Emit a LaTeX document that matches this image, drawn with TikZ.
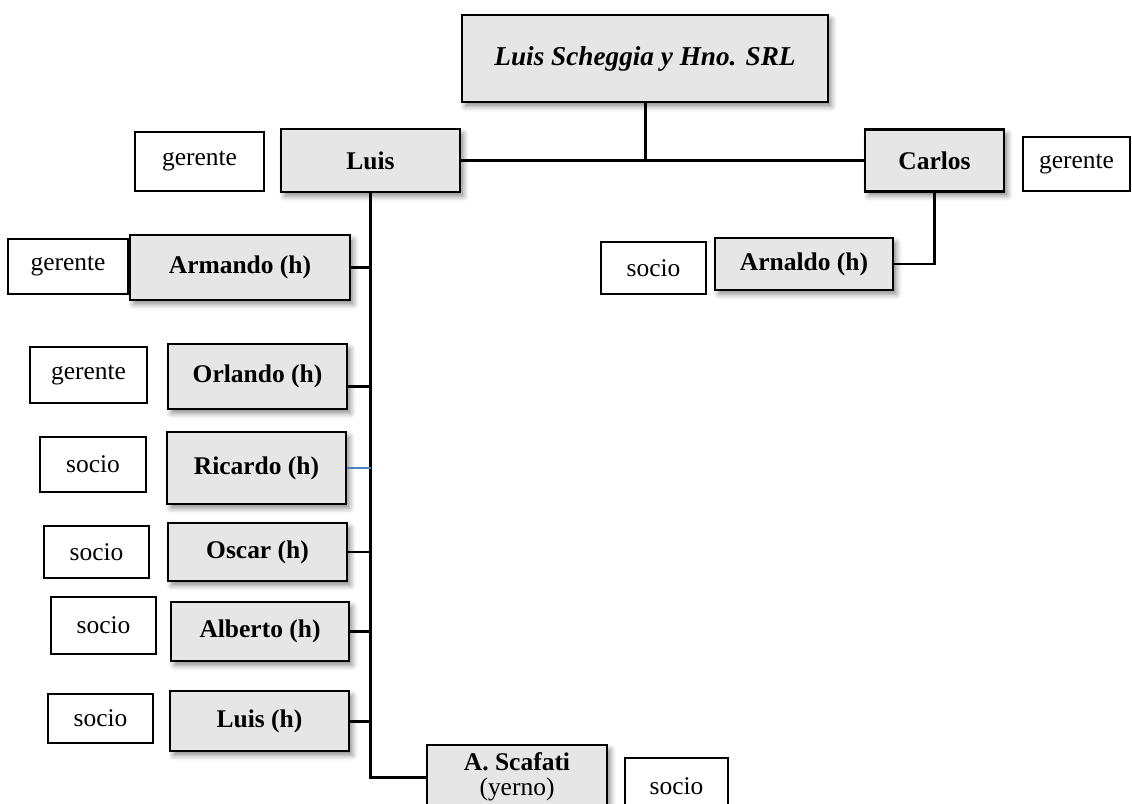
\documentclass[tikz,border=0pt]{standalone}
\usepackage{fontspec}
\setmainfont{Liberation Serif}
\usetikzlibrary{positioning, shadows.blur}
\definecolor{gris}{RGB}{230,230,230}
\definecolor{azul}{RGB}{79,129,189}

\begin{document}
\begin{tikzpicture}[x=0.02cm, y=-0.02cm,
    persona/.style={draw=black, line width=1.6pt, fill=gris, inner sep=2pt,
        font=\fontsize{14.5}{16}\selectfont\bfseries,
        blur shadow={shadow xshift=2pt, shadow yshift=-2.5pt, shadow blur radius=3pt, shadow opacity=45}},
    cargo/.style={draw=black, line width=0.9pt, fill=white, inner sep=2pt,
        font=\fontsize{14.5}{16}\selectfont},
    linea/.style={line width=1.7pt, black},
    lineaazul/.style={line width=0.9pt, azul}]
    \useasboundingbox (0,0) rectangle (1132,804);
    \clip (0,0) rectangle (1132,804);

    % Empresa
    \node[persona, minimum width=7.32cm, minimum height=1.74cm,
          font=\fontsize{15.5}{17}\selectfont\bfseries\itshape] (empresa) at (645,58.5) {Luis Scheggia y Hno. SRL};

    % Socios fundadores
    \node[persona, minimum width=3.58cm, minimum height=1.26cm] (luis) at (370.5,160.5) {Luis};
    \node[cargo, minimum width=2.58cm, minimum height=1.18cm] (gerLuis) at (199.5,161.5) {gerente};
    \node[persona, minimum width=2.78cm, minimum height=1.24cm] (carlos) at (934.5,160.5) {Carlos};
    \node[cargo, minimum width=2.14cm, minimum height=1.08cm] (gerCarlos) at (1076.5,164) {gerente};

    % Rama de Carlos
    \node[persona, minimum width=3.56cm, minimum height=1.04cm] (arnaldo) at (804,264) {Arnaldo (h)};
    \node[cargo, minimum width=2.10cm, minimum height=1.04cm] (socArnaldo) at (653.5,268) {socio};

    % Rama de Luis
    \node[persona, minimum width=4.40cm, minimum height=1.30cm] (armando) at (240,267.5) {Armando (h)};
    \node[cargo, minimum width=2.40cm, minimum height=1.10cm] (gerArmando) at (68,266.5) {gerente};
    \node[persona, minimum width=3.58cm, minimum height=1.30cm] (orlando) at (257.5,376.5) {Orlando (h)};
    \node[cargo, minimum width=2.34cm, minimum height=1.12cm] (gerOrlando) at (88.5,375) {gerente};
    \node[persona, minimum width=3.58cm, minimum height=1.44cm] (ricardo) at (256.5,468) {Ricardo (h)};
    \node[cargo, minimum width=2.12cm, minimum height=1.10cm] (socRicardo) at (93,464.5) {socio};
    \node[persona, minimum width=3.58cm, minimum height=1.16cm] (oscar) at (257.5,552) {Oscar (h)};
    \node[cargo, minimum width=2.10cm, minimum height=1.04cm] (socOscar) at (96.5,552) {socio};
    \node[persona, minimum width=3.56cm, minimum height=1.18cm] (alberto) at (260,631.5) {Alberto (h)};
    \node[cargo, minimum width=2.10cm, minimum height=1.14cm] (socAlberto) at (103.5,625.5) {socio};
    \node[persona, minimum width=3.58cm, minimum height=1.20cm] (luish) at (259.5,721) {Luis (h)};
    \node[cargo, minimum width=2.10cm, minimum height=0.98cm] (socLuish) at (100.5,718.5) {socio};
    \node[persona, minimum width=3.60cm, minimum height=1.28cm, align=center,
          font=\fontsize{14.5}{14}\selectfont] (scafati) at (517,777) {\textbf{A. Scafati}\\(yerno)};
    \node[cargo, minimum width=2.06cm, minimum height=1.12cm] (socScafati) at (676.5,786) {socio};

    % Conectores
    \draw[linea] (empresa.south) -- (empresa.south |- luis.east);
    \draw[linea] (luis.east) -- (carlos.west);
    \draw[linea] (carlos.south) |- (arnaldo.east);
    \draw[linea] (luis.south) |- (scafati.west);
    \draw[linea] (armando.east) -- (armando.east -| luis.south);
    \draw[linea] (orlando.-6) -- (orlando.-6 -| luis.south);
    \draw[lineaazul] (ricardo.east) -- (ricardo.east -| luis.south);
    \draw[linea] (oscar.east) -- (oscar.east -| luis.south);
    \draw[linea] (alberto.east) -- (alberto.east -| luis.south);
    \draw[linea] (luish.east) -- (luish.east -| luis.south);
\end{tikzpicture}
\end{document}
